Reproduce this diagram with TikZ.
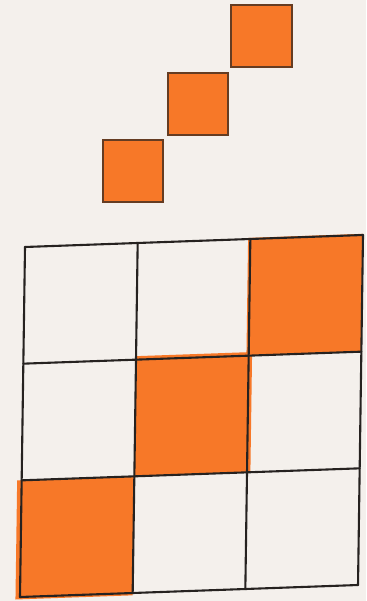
\documentclass[tikz,border=0pt]{standalone}
\usepackage{xcolor}
\definecolor{paper}{RGB}{244,240,236}
\definecolor{crayon}{RGB}{247,120,40}
\definecolor{inkline}{RGB}{38,34,32}

\begin{document}
\begin{tikzpicture}[x=1pt, y=1pt,
    tile/.style={fill=crayon, draw=inkline!70!crayon, line width=1.4pt},
    shade/.style={fill=crayon},
    gridline/.style={draw=inkline, line width=2.1pt, line cap=round}
]
    % paper
    \fill[paper] (0,0) rectangle (366,601);
    % three tiles going up as a stair
    \draw[tile] (103,399) rectangle (163,461);
    \draw[tile] (168,466) rectangle (228,528);
    \draw[tile] (231,534) rectangle (292,596);
    % 3x3 grid, a bit skewed like the photo
    \begin{scope}[cm={112.67,4,-1.667,-116.67,(25pt,354pt)}]
        \fill[shade] (-0.04,2) rectangle (1,3.02);
        \fill[shade] (1,0.97) rectangle (2.03,2);
        \fill[shade] (1.98,-0.01) rectangle (3,1);
        \foreach \k in {0,...,3} {
            \draw[gridline] (\k,0) -- (\k,3);
            \draw[gridline] (0,\k) -- (3,\k);
        }
    \end{scope}
\end{tikzpicture}
\end{document}
